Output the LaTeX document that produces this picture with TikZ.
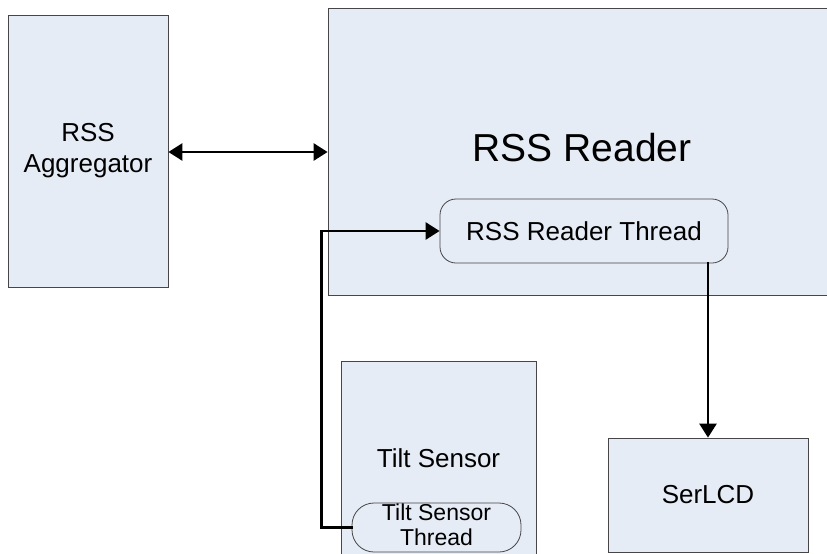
\documentclass[tikz,border=0pt]{standalone}
\usepackage{fontspec}
\setmainfont{Liberation Sans}
\usetikzlibrary{arrows.meta}
\definecolor{boxfill}{RGB}{230,236,246}
\definecolor{boxline}{RGB}{70,70,70}
\tikzset{
  block/.style={draw=boxline, line width=0.8pt, fill=boxfill, inner sep=0pt, align=center},
  thread/.style={block, rounded corners=16pt},
  tip/.tip={Triangle[length=14pt,width=17pt]},
  link/.style={line width=2.7pt, line cap=rect, -tip},
}
\begin{document}
\begin{tikzpicture}[x=1pt, y=-1pt]
  \clip (0,0) rectangle (827,554);
  \fill[white] (0,0) rectangle (827,554);

  % left-hand aggregator
  \node[block, minimum width=160pt, minimum height=272pt, font=\fontsize{26}{31}\selectfont]
    (agg) at (88,151) {RSS\\Aggregator};

  % reader block with its worker thread
  \node[block, minimum width=512pt, minimum height=287pt] (reader) at (584,151.5) {};
  \node[font=\fontsize{39}{44}\selectfont] (readerlbl) at (582,148) {RSS Reader};
  \node[thread, minimum width=288pt, minimum height=64pt, font=\fontsize{26}{30}\selectfont]
    (rthread) at (584,231) {RSS Reader Thread};

  % tilt sensor block with its thread
  \node[block, minimum width=195pt, minimum height=200pt] (tilt) at (438.5,461) {};
  \node[font=\fontsize{26}{30}\selectfont] (tiltlbl) at (438.5,458) {Tilt Sensor};
  \node[thread, rounded corners=22pt, minimum width=169pt, minimum height=49pt] (tthread) at (436.5,527.5) {};
  \node[font=\fontsize{23}{25}\selectfont, align=center] (tthreadlbl) at (436.5,525) {Tilt Sensor\\Thread};

  % display
  \node[block, minimum width=200pt, minimum height=114pt, font=\fontsize{26}{30}\selectfont]
    (lcd) at (708,495) {SerLCD};

  % connectors
  \draw[link, tip-tip] (agg.east |- 0,152) -- (reader.west |- 0,152);
  \draw[link] (tthread.west) -- ++(-30,0) |- (rthread.west);
  \draw[link] (rthread.south -| lcd.north) -- (lcd.north);
\end{tikzpicture}
\end{document}
